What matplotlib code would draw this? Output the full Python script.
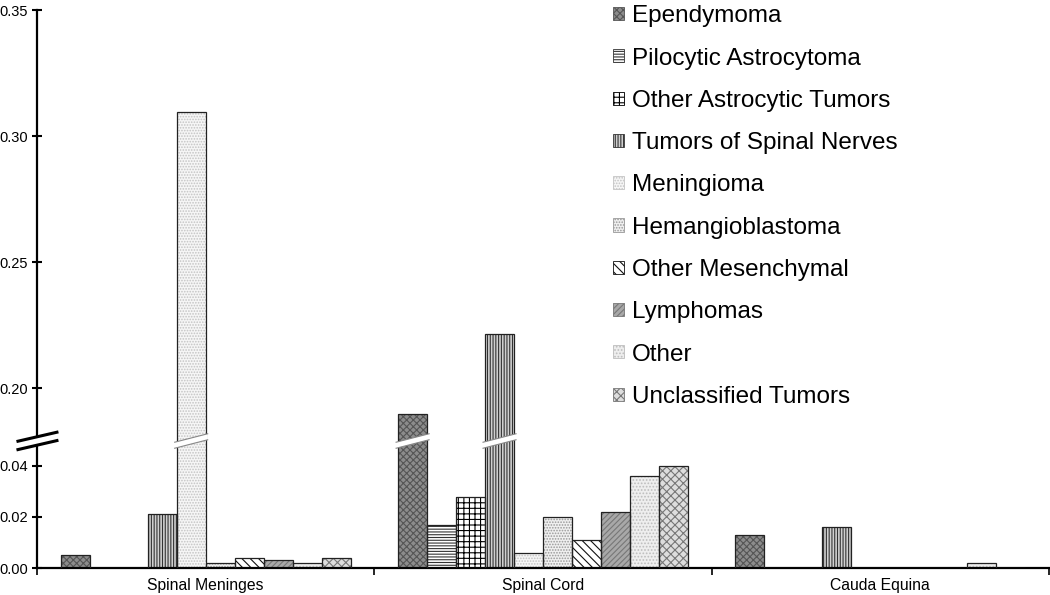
import matplotlib.pyplot as plt
import numpy as np
from matplotlib.transforms import blended_transform_factory
from matplotlib.ticker import FixedLocator, FormatStrFormatter

plt.rcParams['font.family'] = ['Liberation Sans', 'DejaVu Sans']
plt.rcParams['hatch.linewidth'] = 0.8

# Data (incidence rates per 100,000)
groups = ['Spinal Meninges', 'Spinal Cord', 'Cauda Equina']
series = ['Ependymoma', 'Pilocytic Astrocytoma', 'Other Astrocytic Tumors',
          'Tumors of Spinal Nerves', 'Meningioma', 'Hemangioblastoma',
          'Other Mesenchymal', 'Lymphomas', 'Other', 'Unclassified Tumors']
meninges = [0.005, 0.0, 0.0, 0.021, 0.3095, 0.002, 0.004, 0.003, 0.002, 0.004]
cord = [0.1897, 0.017, 0.028, 0.2214, 0.006, 0.020, 0.011, 0.022, 0.036, 0.040]
cauda = [0.013, 0.0, 0.0, 0.016, 0.0, 0.0, 0.0, 0.0, 0.002, 0.0]
yticks = [0.0, 0.02, 0.04, 0.20, 0.25, 0.30, 0.35]

# fill, hatch, hatch colour per series
styles = [
    ('#8c8c8c', 'xxxxx', '#555555'),
    ('white', '------', '#333333'),
    ('white', '+++', '#000000'),
    ('#d0d0d0', '||||||', '#333333'),
    ('#f6f6f6', '......', '#c4c4c4'),
    ('#f0f0f0', '......', '#999999'),
    ('white', '\\\\\\\\', '#111111'),
    ('#a8a8a8', '//////', '#777777'),
    ('#eeeeee', '.....', '#bdbdbd'),
    ('#dddddd', 'xxxx', '#777777'),
]

# broken y axis: 0..LOW fills the bottom band, HIGH..0.35 the top band
LOW, HIGH, TOP = 0.0498, 0.179, 0.35
H1, H2 = 127.0, 431.0


def fwd(y):
    y = np.asarray(y, dtype=float)
    return np.where(y <= LOW, y / LOW * H1,
                    np.where(y >= HIGH, H1 + (y - HIGH) / (TOP - HIGH) * H2, H1))


def inv(u):
    u = np.asarray(u, dtype=float)
    return np.where(u <= H1, u / H1 * LOW, HIGH + (u - H1) / H2 * (TOP - HIGH))


fig = plt.figure(figsize=(10.5, 5.95), dpi=100)
ax = fig.add_axes([37 / 1050, 27 / 595, 1012 / 1050, 558 / 595])
ax.set_yscale('function', functions=(fwd, inv))
ax.set_ylim(0, TOP)
ax.set_xlim(-0.5, 2.5)

data = np.array([meninges, cord, cauda])
x = np.arange(len(groups))
n = len(series)
width = 0.0859
offsets = (np.arange(n) - (n - 1) / 2) * width

for i, name in enumerate(series):
    fc, hatch, hc = styles[i]
    vals = data[:, i]
    ax.bar(x + offsets[i], vals, width, color=fc, hatch=hatch, edgecolor=hc,
           linewidth=0, zorder=2)
    ax.bar(x + offsets[i], vals, width, facecolor='none', edgecolor='#222222',
           linewidth=0.9, zorder=3)
    ax.bar([0], [0], 0, color=fc, hatch=hatch, edgecolor=hc, linewidth=0.6,
           label=name)

# white gaps across bars that cross the break
brk = H1 / (H1 + H2)
trans = blended_transform_factory(ax.transData, ax.transAxes)
slope = 0.155
thick = 0.0108
for gi in range(len(groups)):
    for i in range(n):
        if data[gi, i] > HIGH:
            xc = x[gi] + offsets[i]
            xs = np.array([xc - width / 2 - 0.006, xc + width / 2 + 0.006])
            yc = brk + slope * (xs - xc)
            ax.fill([xs[0], xs[1], xs[1], xs[0]],
                    [yc[0] - thick / 2, yc[1] - thick / 2, yc[1] + thick / 2, yc[0] + thick / 2],
                    transform=trans, color='white', zorder=4, lw=0)
            for s in (-1, 1):
                ax.plot(xs, yc + s * thick / 2, transform=trans, color='#888888',
                        lw=0.8, zorder=5)

# break marks on the y axis
bx = np.array([-0.0188, 0.0197])
by = brk + (9 / 558) / (39 / 1013) * bx
ax.fill([bx[0], bx[1], bx[1], bx[0]], [by[0] - 0.007, by[1] - 0.007, by[1] + 0.007, by[0] + 0.007],
        transform=ax.transAxes, color='white', zorder=6, clip_on=False, lw=0)
for s in (-1, 1):
    ax.plot(bx, by + s * 0.0075, transform=ax.transAxes, color='black', lw=2.2,
            zorder=7, clip_on=False)

ax.yaxis.set_major_locator(FixedLocator(yticks))
ax.yaxis.set_major_formatter(FormatStrFormatter('%.2f'))
ax.yaxis.set_minor_locator(FixedLocator([]))
ax.tick_params(axis='y', direction='inout', length=7, width=1.5, labelsize=10.5, pad=3)

ax.set_xticks(x)
ax.set_xticklabels(groups, fontsize=11.3)
ax.set_xticks([-0.5, 0.5, 1.5, 2.5], minor=True)
ax.tick_params(axis='x', which='major', length=0, pad=7)
ax.tick_params(axis='x', which='minor', direction='out', length=5, width=1.2)

for side in ('top', 'right'):
    ax.spines[side].set_visible(False)
ax.spines['left'].set_linewidth(1.6)
ax.spines['bottom'].set_linewidth(1.6)

ax.legend(loc='upper left', bbox_to_anchor=(566 / 1012, 1.026), frameon=False,
          fontsize=17.5, handlelength=0.45, handleheight=0.45, handletextpad=0.35,
          labelspacing=0.835, borderaxespad=0)

fig.savefig('out.png', dpi=100)
